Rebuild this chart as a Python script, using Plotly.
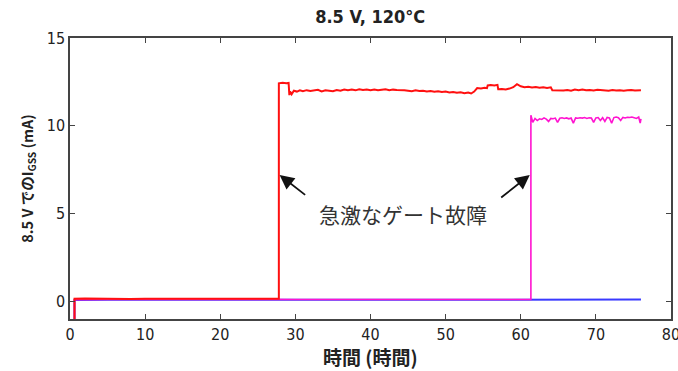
import plotly.graph_objects as go

# ---- data ----
red_t = [0.6, 0.6, 2, 4, 6, 8, 10, 12, 14, 16, 18, 20, 22, 24, 26, 27.8,
         27.8, 28.3, 28.8, 29.1, 29.2, 29.3, 29.5, 29.8, 30.2, 30.6, 31.0, 31.5, 32.0, 32.5,
         33.0, 33.5, 34.0, 34.5, 35.0, 35.5, 36.0, 36.5, 37.0, 37.5, 38.0, 38.5, 39.0, 39.5,
         40.0, 40.5, 41.0, 41.5, 42.0, 42.5, 43.0, 43.5, 44.0, 44.5, 45.0, 45.5, 46.0, 46.5,
         47.0, 47.5, 48.0, 48.5, 49.0, 49.5, 50.0, 50.5, 51.0, 51.5, 52.0, 52.5, 53.0, 53.4,
         53.8, 54.2, 54.7, 55.2, 55.5, 55.6, 56.0, 56.5, 56.9, 57.0, 57.5, 58.0, 58.5, 59.0,
         59.5, 60.0, 60.5, 61.0, 61.5, 62.0, 62.5, 63.0, 63.5, 64.0, 64.2, 64.7, 65.2, 65.7,
         66.2, 66.7, 67.2, 67.7, 68.2, 68.7, 69.2, 69.7, 70.2, 70.7, 71.2, 71.7, 72.2, 72.7,
         73.2, 73.7, 74.2, 74.7, 75.2, 75.7, 76.0]
red_i = [-1.0, 0.15, 0.17, 0.15, 0.16, 0.14, 0.15, 0.16, 0.15, 0.14, 0.16, 0.15, 0.17, 0.15, 0.16, 0.15,
         12.42, 12.45, 12.42, 12.44, 11.75, 11.95, 11.8, 12.0, 11.95, 12.02, 11.97, 12.03, 11.98, 12.0,
         12.05, 11.96, 12.02, 12.0, 11.97, 12.04, 12.0, 12.07, 12.03, 12.06, 12.02, 12.08, 12.04, 12.07,
         12.03, 12.06, 12.02, 12.05, 12.08, 12.03, 12.06, 12.04, 12.05, 12.02, 12.0, 11.97, 12.02, 11.98,
         12.0, 11.96, 11.98, 11.94, 11.97, 11.93, 11.95, 11.9, 11.93, 11.88, 11.91, 11.86, 11.9, 11.84,
         11.95, 12.15, 12.12, 12.16, 12.14, 12.3, 12.32, 12.3, 12.33, 12.08, 12.1, 12.07, 12.12, 12.2,
         12.37, 12.25, 12.2, 12.22, 12.18, 12.21, 12.17, 12.2, 12.16, 12.19, 12.03, 12.02, 12.05, 12.01,
         12.04, 12.0, 12.06, 12.03, 12.07, 12.02, 12.04, 12.01, 12.05, 12.02, 12.03, 12.0, 12.04, 12.01,
         12.03, 12.0, 12.02, 12.04, 12.01, 12.03, 12.02]

mag_t = [0.6, 0.6, 5, 10, 20, 30, 40, 50, 60, 61.35,
         61.35, 61.6, 61.9, 62.2, 62.5, 62.8, 63.1, 63.4, 63.7, 64.0, 64.3, 64.6, 64.9,
         65.2, 65.5, 65.8, 66.1, 66.4, 66.7, 67.0, 67.3, 67.6, 67.9, 68.2, 68.5, 68.8,
         69.1, 69.4, 69.7, 70.0, 70.3, 70.6, 70.9, 71.2, 71.5, 71.8, 72.1, 72.4, 72.7,
         73.0, 73.3, 73.6, 73.9, 74.2, 74.5, 74.8, 75.1, 75.4, 75.7, 75.9, 76.0]
mag_i = [-1.0, 0.1, 0.11, 0.1, 0.12, 0.11, 0.1, 0.12, 0.11, 0.11,
         10.6, 10.2, 10.42, 10.3, 10.4, 10.36, 10.45, 10.38, 10.25, 10.42, 10.4, 10.44, 10.2,
         10.43, 10.46, 10.42, 10.45, 10.4, 10.44, 10.15, 10.45, 10.43, 10.46, 10.44, 10.47, 10.42,
         10.46, 10.44, 10.2, 10.45, 10.47, 10.3, 10.46, 10.25, 10.48, 10.45, 10.15, 10.47, 10.5,
         10.46, 10.3, 10.48, 10.45, 10.49, 10.47, 10.5, 10.46, 10.42, 10.5, 10.15, 10.4]

blue_t = [0.6, 0.6, 5, 10, 20, 30, 40, 50, 60, 70, 76.0]
blue_i = [-1.0, 0.08, 0.09, 0.08, 0.1, 0.09, 0.1, 0.11, 0.1, 0.11, 0.11]

title_text = "8.5 V, 120°C"
x_title = "時間 (時間)"
y_title = "8.5 V でのI<sub>GSS</sub> (mA)"
note_text = "急激なゲート故障"
x_ticks = [0, 10, 20, 30, 40, 50, 60, 70, 80]
y_ticks = [0, 5, 10, 15]

LAT = "DejaVu Sans Condensed, Liberation Sans Narrow, Noto Sans CJK JP, sans-serif"
CJK = "Noto Sans CJK JP, sans-serif"

fig = go.Figure()
fig.add_trace(go.Scatter(x=blue_t, y=blue_i, mode="lines",
                         line=dict(color="#3a3aff", width=2), showlegend=False))
fig.add_trace(go.Scatter(x=mag_t, y=mag_i, mode="lines",
                         line=dict(color="#ff14d0", width=1.6), showlegend=False))
fig.add_trace(go.Scatter(x=red_t, y=red_i, mode="lines",
                         line=dict(color="#ff1010", width=2), showlegend=False))

axis_common = dict(showgrid=False, zeroline=False, showline=True, linecolor="#444444",
                   linewidth=1.5, mirror="ticks", ticks="inside", ticklen=5,
                   tickcolor="#444444", tickwidth=1.2, ticklabeloverflow="allow",
                   automargin=False,
                   tickfont=dict(family=LAT, size=16, color="#222222"))

fig.update_xaxes(range=[0, 80], tickvals=x_ticks, **axis_common)
fig.update_yaxes(range=[-1, 15], tickvals=y_ticks, **axis_common,
                 title=dict(text=y_title, font=dict(family=CJK, size=14.5, color="#222222",
                                                    weight="bold"), standoff=10))

# x-axis title as paper annotation
fig.add_annotation(x=0.5, y=-0.135, xref="paper", yref="paper", text=x_title,
                   showarrow=False, xanchor="center", yanchor="middle",
                   font=dict(family=CJK, size=19, color="#222222", weight="bold"))

# arrows (tail -> head in data coordinates)
fig.add_annotation(x=27.9, y=7.2, ax=31.5, ay=6.0, axref="x", ayref="y", xref="x", yref="y",
                   text="", showarrow=True, arrowhead=2, arrowsize=1.6, arrowwidth=1.8,
                   arrowcolor="#111111")
fig.add_annotation(x=61.2, y=7.2, ax=57.2, ay=5.85, axref="x", ayref="y", xref="x", yref="y",
                   text="", showarrow=True, arrowhead=2, arrowsize=1.6, arrowwidth=1.8,
                   arrowcolor="#111111")
fig.add_annotation(x=44.3, y=5.0, xref="x", yref="y", text=note_text, showarrow=False,
                   font=dict(family=CJK, size=21, color="#333333"))

fig.update_layout(
    width=678, height=371,
    margin=dict(l=70, r=7, t=38, b=52, autoexpand=False),
    paper_bgcolor="white", plot_bgcolor="white",
    title=dict(text=title_text, x=0.546, xanchor="center", y=0.955, yanchor="middle",
               font=dict(family=LAT, size=18, color="#222222", weight="bold")),
)

fig.write_html("out.html")
